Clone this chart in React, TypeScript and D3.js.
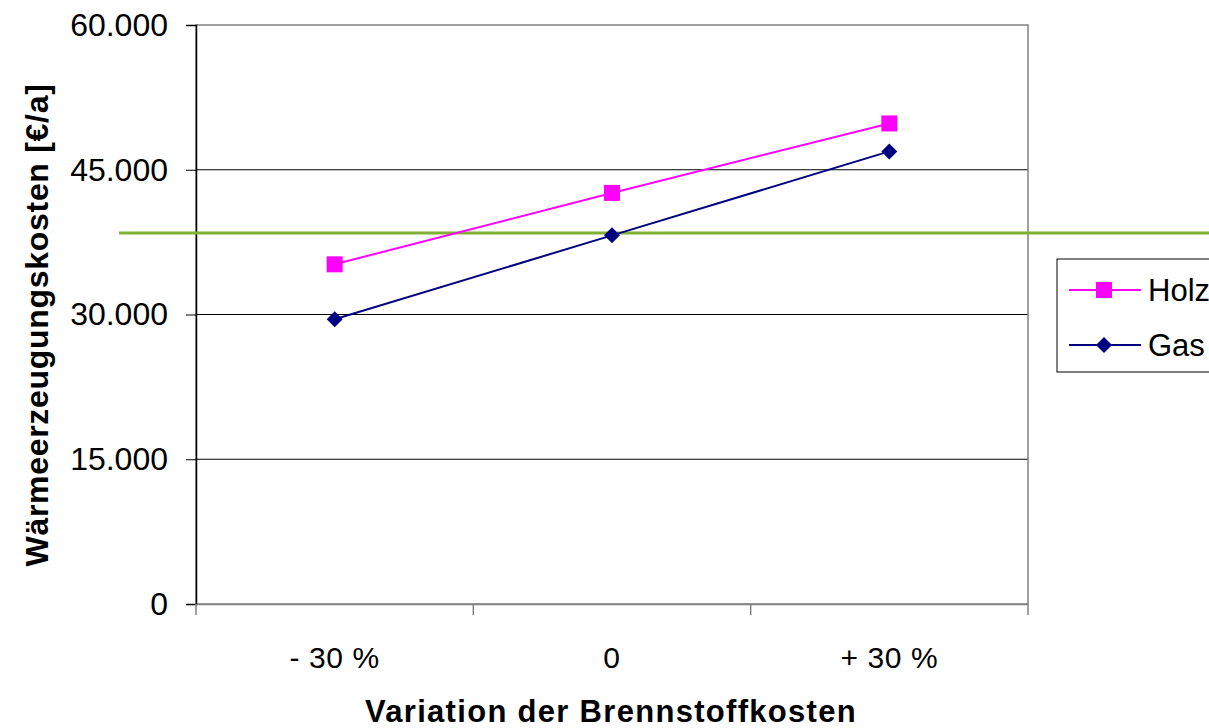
import React, { useEffect, useRef } from 'react';
import * as d3 from 'd3';

const categories = ['- 30 %', '0', '+ 30 %'];
const holzValues = [35200, 42600, 49800];
const gasValues = [29500, 38200, 46900];
const referenceValue = 38450;
const yTicks = [0, 15000, 30000, 45000, 60000];
const seriesNames = ['Holz', 'Gas'];

const App: React.FC = () => {
  const ref = useRef<SVGSVGElement | null>(null);

  useEffect(() => {
    const width = 1209;
    const height = 728;
    const left = 196, right = 1028, top = 25, bottom = 604;
    const font = 'Arial, "Liberation Sans", sans-serif';

    const svg = d3.select(ref.current)
      .attr('width', width)
      .attr('height', height)
      .style('display', 'block')
      .style('background', '#ffffff');
    svg.selectAll('*').remove();

    const x = d3.scaleBand<string>().domain(categories).range([left, right]);
    const y = d3.scaleLinear().domain([0, 60000]).range([bottom, top]);
    const fmt = (v: number) => d3.format(',d')(v).replace(/,/g, '.');

    // gridlines
    svg.append('g')
      .selectAll('line')
      .data(yTicks.filter(t => t > 0 && t < 60000))
      .join('line')
      .attr('x1', left).attr('x2', right)
      .attr('y1', d => y(d)).attr('y2', d => y(d))
      .attr('stroke', '#000').attr('stroke-width', 1);

    // plot border
    svg.append('rect')
      .attr('x', left).attr('y', top)
      .attr('width', right - left).attr('height', bottom - top)
      .attr('fill', 'none').attr('stroke', '#808080').attr('stroke-width', 1.5);

    // y axis
    const yAxis = svg.append('g')
      .attr('transform', `translate(${left},0)`)
      .call(d3.axisLeft(y).tickValues(yTicks).tickSize(10).tickPadding(18).tickFormat(d => fmt(+d)));
    yAxis.select('.domain').attr('stroke', '#000').attr('stroke-width', 1.5);
    yAxis.selectAll('.tick line').attr('stroke', '#000');
    yAxis.selectAll('text').attr('font-family', font).attr('font-size', 32).attr('fill', '#000');

    // x axis
    const xAxis = svg.append('g')
      .attr('transform', `translate(0,${bottom})`)
      .call(d3.axisBottom(x).tickSize(0).tickPadding(43));
    xAxis.select('.domain').attr('stroke', '#808080').attr('stroke-width', 1.5);
    xAxis.selectAll('text').attr('font-family', font).attr('font-size', 30)
      .attr('letter-spacing', 0.6).attr('fill', '#000');
    svg.append('g')
      .selectAll('line')
      .data([left, ...categories.map(c => (x(c) as number) + x.bandwidth())])
      .join('line')
      .attr('x1', d => d).attr('x2', d => d)
      .attr('y1', bottom).attr('y2', bottom + 11)
      .attr('stroke', '#808080').attr('stroke-width', 1.5);

    // reference line
    svg.append('line')
      .attr('x1', 119).attr('x2', width)
      .attr('y1', y(referenceValue)).attr('y2', y(referenceValue))
      .attr('stroke', '#80b135').attr('stroke-width', 3);

    const cx = (c: string) => (x(c) as number) + x.bandwidth() / 2;
    const line = d3.line<number>().x((_, i) => cx(categories[i])).y(d => y(d));

    svg.append('path').datum(holzValues).attr('d', line)
      .attr('fill', 'none').attr('stroke', '#ff00ff').attr('stroke-width', 2);
    svg.append('path').datum(gasValues).attr('d', line)
      .attr('fill', 'none').attr('stroke', '#000080').attr('stroke-width', 2);

    const square = d3.symbol().type(d3.symbolSquare).size(256);
    const diamond = 'M0,-8L8,0L0,8L-8,0Z';

    svg.append('g').selectAll('path')
      .data(holzValues).join('path')
      .attr('d', square())
      .attr('transform', (d, i) => `translate(${cx(categories[i])},${y(d)})`)
      .attr('fill', '#ff00ff');
    svg.append('g').selectAll('path')
      .data(gasValues).join('path')
      .attr('d', diamond)
      .attr('transform', (d, i) => `translate(${cx(categories[i])},${y(d)})`)
      .attr('fill', '#000080');

    // legend
    const lg = svg.append('g');
    lg.append('rect')
      .attr('x', 1057).attr('y', 259).attr('width', 200).attr('height', 113)
      .attr('fill', '#fff').attr('stroke', '#000').attr('stroke-width', 1);
    const rows = [
      { name: seriesNames[0], color: '#ff00ff', marker: square() as string, yy: 290 },
      { name: seriesNames[1], color: '#000080', marker: diamond, yy: 345 },
    ];
    rows.forEach(r => {
      lg.append('line').attr('x1', 1069).attr('x2', 1141).attr('y1', r.yy).attr('y2', r.yy)
        .attr('stroke', r.color).attr('stroke-width', 2);
      lg.append('path').attr('d', r.marker).attr('transform', `translate(1104,${r.yy})`).attr('fill', r.color);
      lg.append('text').attr('x', 1148).attr('y', r.yy + 11)
        .attr('font-family', font).attr('font-size', 31).attr('fill', '#000').text(r.name);
    });

    // titles
    svg.append('text')
      .attr('transform', `translate(48,325) rotate(-90)`)
      .attr('text-anchor', 'middle')
      .attr('font-family', font).attr('font-weight', 'bold').attr('font-size', 32)
      .attr('letter-spacing', 0.7)
      .text('Wärmeerzeugungskosten [€/a]');
    svg.append('text')
      .attr('x', 611).attr('y', 722)
      .attr('text-anchor', 'middle')
      .attr('font-family', font).attr('font-weight', 'bold').attr('font-size', 31)
      .attr('letter-spacing', 1.3)
      .text('Variation der Brennstoffkosten');
  }, []);

  return <svg ref={ref} style={{ position: 'absolute', left: 0, top: 0 }}></svg>;
};

export default App;
